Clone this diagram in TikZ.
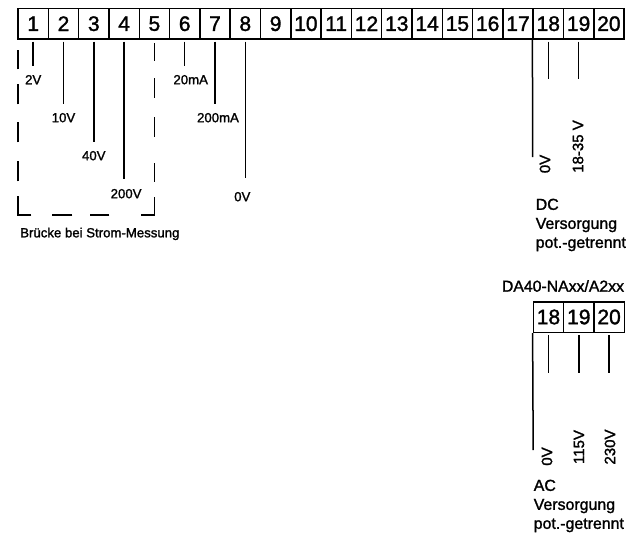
\documentclass[tikz,border=0pt]{standalone}
\usepackage{fontspec}
\setmainfont[RawFeature={embolden=1.5}]{Liberation Sans}
\begin{document}
\begin{tikzpicture}[x=1pt,y=1pt,auto,node distance=30.3pt,line width=1.5pt]
		\tikzstyle{klemme}=[draw=black,line width=1.5pt,minimum width=30.3pt,minimum height=30.5pt,inner sep=0pt,font=\fontsize{21}{22}\selectfont]
		\tikzstyle{wire}=[line width=1.5pt,shorten <=2pt]
		\tikzstyle{wert}=[inner sep=0pt,font=\fontsize{13.2}{15}\selectfont]
		\tikzstyle{gedreht}=[inner sep=0pt,rotate=90,font=\fontsize{15}{15}\selectfont]
		\tikzstyle{hinweis}=[inner sep=0pt,align=left,anchor=north west,font=\fontsize{15.9}{19}\selectfont]
		\tikzstyle{bruecke}=[line width=1.5pt,dash pattern=on 18pt off 17pt on 20pt off 19pt on 20pt off 26pt on 19pt off 15pt on 31pt off 32pt on 19pt off 18pt on 20pt off 21pt on 32pt off 15pt on 20pt off 19pt on 20pt off 18pt on 20pt off 15pt on 20pt off 200pt]
		\useasboundingbox (0,0) rectangle (638,-533);
		
		\node[klemme] (t1) at (33.2,-23.7) {1};
		\node[klemme] (t2) [right of=t1] {2};
		\node[klemme] (t3) [right of=t2] {3};
		\node[klemme] (t4) [right of=t3] {4};
		\node[klemme] (t5) [right of=t4] {5};
		\node[klemme] (t6) [right of=t5] {6};
		\node[klemme] (t7) [right of=t6] {7};
		\node[klemme] (t8) [right of=t7] {8};
		\node[klemme] (t9) [right of=t8] {9};
		\node[klemme] (t10) [right of=t9] {10};
		\node[klemme] (t11) [right of=t10] {11};
		\node[klemme] (t12) [right of=t11] {12};
		\node[klemme] (t13) [right of=t12] {13};
		\node[klemme] (t14) [right of=t13] {14};
		\node[klemme] (t15) [right of=t14] {15};
		\node[klemme] (t16) [right of=t15] {16};
		\node[klemme] (t17) [right of=t16] {17};
		\node[klemme] (t18) [right of=t17] {18};
		\node[klemme] (t19) [right of=t18] {19};
		\node[klemme] (t20) [right of=t19] {20};
		
		\coordinate[below of=t1,node distance=42pt] (e1);
		\coordinate[below of=t2,node distance=80pt] (e2);
		\coordinate[below of=t3,node distance=118pt] (e3);
		\coordinate[below of=t4,node distance=155pt] (e4);
		\coordinate[below of=t6,node distance=42pt] (e6);
		\coordinate[below of=t7,node distance=80pt] (e7);
		\coordinate[below of=t8,node distance=154pt] (e8);
		\coordinate[below of=t18,node distance=55pt] (e18);
		\coordinate[below of=t19,node distance=55pt] (e19);
		\coordinate (e0) at (532.7,-157);
		
		\node[wert] (l1) [below of=e1,node distance=14pt] {2V};
		\node[wert] (l2) [below of=e2,node distance=14pt] {10V};
		\node[wert] (l3) [below of=e3,node distance=14pt] {40V};
		\node[wert] (l4) [below of=e4,node distance=15pt,xshift=2pt] {200V};
		\node[wert] (l6) [below of=e6,node distance=14pt,xshift=6pt] {20mA};
		\node[wert] (l7) [below of=e7,node distance=14pt,xshift=3pt] {200mA};
		\node[wert] (l8) [below of=e8,node distance=19pt,xshift=-3pt] {0V};
		\node[gedreht] (l18) at (545,-164) {0V};
		\node[gedreht] (l19) at (578,-146.5) {18-35 V};
		
		\path
		(t1.south) edge[wire] (e1)
		(t2.south) edge[wire] (e2)
		(t3.south) edge[wire] (e3)
		(t4.south) edge[wire] (e4)
		(t6.south) edge[wire] (e6)
		(t7.south) edge[wire] (e7)
		(t8.south) edge[wire] (e8)
		(t18.south) edge[wire] (e18)
		(t19.south) edge[wire] (e19)
		(t18.south west) edge[line width=1.5pt] (e0);
		
		\coordinate[below of=t5,node distance=19.3pt] (b0);
		\coordinate (b1) at (b0 |- 0,-215);
		\coordinate (b2) at (18,-215);
		\coordinate (b3) at (18,-50);
		\draw[bruecke] (b0) -- (b1) -- (b2) -- (b3);
		
		\node[wert,anchor=north west] (bruecke) at (19.5,-227) {Brücke bei Strom-Messung};
		\node[hinweis] (dc) at (535,-198) {DC\\Versorgung\\pot.-getrennt};
		
		\node[wert,font=\fontsize{15.8}{16}\selectfont] (typ) at (563,-286) {DA40-NAxx/A2xx};
		
		\node[klemme] (a18) at (548.5,-317) {18};
		\node[klemme] (a19) [right of=a18] {19};
		\node[klemme] (a20) [right of=a19] {20};
		
		\coordinate[below of=a18,node distance=56pt] (f18);
		\coordinate[below of=a19,node distance=56pt] (f19);
		\coordinate[below of=a20,node distance=56pt] (f20);
		\coordinate (f0) at (533.2,-450);
		
		\path
		(a18.south) edge[wire] (f18)
		(a19.south) edge[wire] (f19)
		(a20.south) edge[wire] (f20)
		(a18.south west) edge[line width=1.5pt] (f0);
		
		\node[gedreht] (m18) at (547,-456.5) {0V};
		\node[gedreht] (m19) at (579,-447) {115V};
		\node[gedreht] (m20) at (610,-447) {230V};
		
		\node[hinweis] (ac) at (533,-479) {AC\\Versorgung\\pot.-getrennt};
		\end{tikzpicture}
\end{document}
